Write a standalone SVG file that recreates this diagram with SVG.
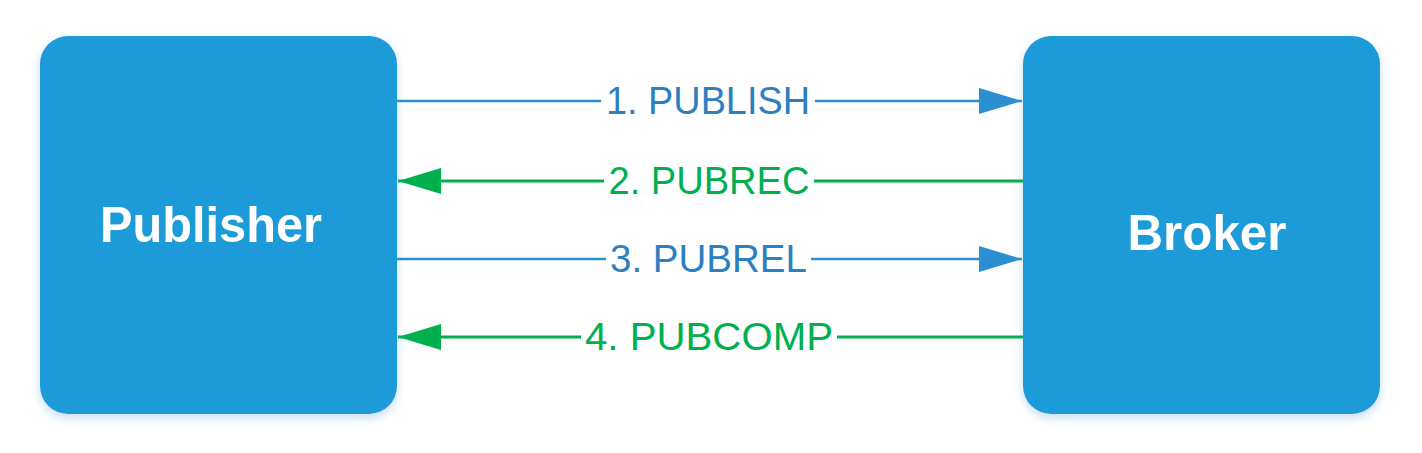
<svg xmlns="http://www.w3.org/2000/svg" width="1422" height="453" viewBox="0 0 1422 453">
  <style>
    .box { fill: #1f9bd8; }
    .boxlabel { font-family: "Liberation Sans", Arial, sans-serif; font-weight: bold; font-size: 50px; fill: #ffffff; text-anchor: middle; }
    .lbl { font-family: "Liberation Sans", Arial, sans-serif; font-size: 38px; text-anchor: middle; }
    .blue-line { stroke: #2b8fd0; stroke-width: 2.5; fill: none; }
    .green-line { stroke: #00b04f; stroke-width: 3; fill: none; }
    .blue-txt { fill: #2c80c0; }
    .green-txt { fill: #00b04f; }
  </style>
  <defs>
    <filter id="shadow" x="-10%" y="-10%" width="120%" height="125%">
      <feDropShadow dx="0" dy="4" stdDeviation="5" flood-color="#9cc9e8" flood-opacity="0.6"/>
    </filter>
    <marker id="arrowBlue" markerUnits="userSpaceOnUse" markerWidth="44" markerHeight="28" viewBox="0 0 44 28" refX="43" refY="14" orient="auto">
      <path d="M0,1 L43,14 L0,27 Z" fill="#2b8fd0"/>
    </marker>
    <marker id="arrowGreen" markerUnits="userSpaceOnUse" markerWidth="44" markerHeight="28" viewBox="0 0 44 28" refX="43" refY="14" orient="auto">
      <path d="M0,1 L43,14 L0,27 Z" fill="#00b04f"/>
    </marker>
  </defs>

  <g id="publisher">
    <rect class="box" x="40" y="36" width="357" height="378" rx="28" ry="28" filter="url(#shadow)"/>
    <text class="boxlabel" x="211" y="242" textLength="222" lengthAdjust="spacingAndGlyphs">Publisher</text>
  </g>

  <g id="broker">
    <rect class="box" x="1023" y="36" width="357" height="378" rx="28" ry="28" filter="url(#shadow)"/>
    <text class="boxlabel" x="1207" y="250" textLength="159" lengthAdjust="spacingAndGlyphs">Broker</text>
  </g>

  <g id="connectors">
    <g id="c1-publish">
      <path class="blue-line" d="M397,101 L601,101"/>
      <path class="blue-line" d="M815,101 L1022,101" marker-end="url(#arrowBlue)"/>
      <text class="lbl blue-txt" x="708" y="114" textLength="204" lengthAdjust="spacingAndGlyphs">1. PUBLISH</text>
    </g>
    <g id="c2-pubrec">
      <path class="green-line" d="M604,181 L398,181" marker-end="url(#arrowGreen)"/>
      <path class="green-line" d="M1023,181 L814,181"/>
      <text class="lbl green-txt" x="709" y="194" textLength="201" lengthAdjust="spacingAndGlyphs">2. PUBREC</text>
    </g>
    <g id="c3-pubrel">
      <path class="blue-line" d="M397,259 L606,259"/>
      <path class="blue-line" d="M811,259 L1022,259" marker-end="url(#arrowBlue)"/>
      <text class="lbl blue-txt" x="708.5" y="272" textLength="197" lengthAdjust="spacingAndGlyphs">3. PUBREL</text>
    </g>
    <g id="c4-pubcomp">
      <path class="green-line" d="M581,337 L398,337" marker-end="url(#arrowGreen)"/>
      <path class="green-line" d="M1023,337 L837,337"/>
      <text class="lbl green-txt" x="709" y="350" textLength="248" lengthAdjust="spacingAndGlyphs">4. PUBCOMP</text>
    </g>
  </g>
</svg>
